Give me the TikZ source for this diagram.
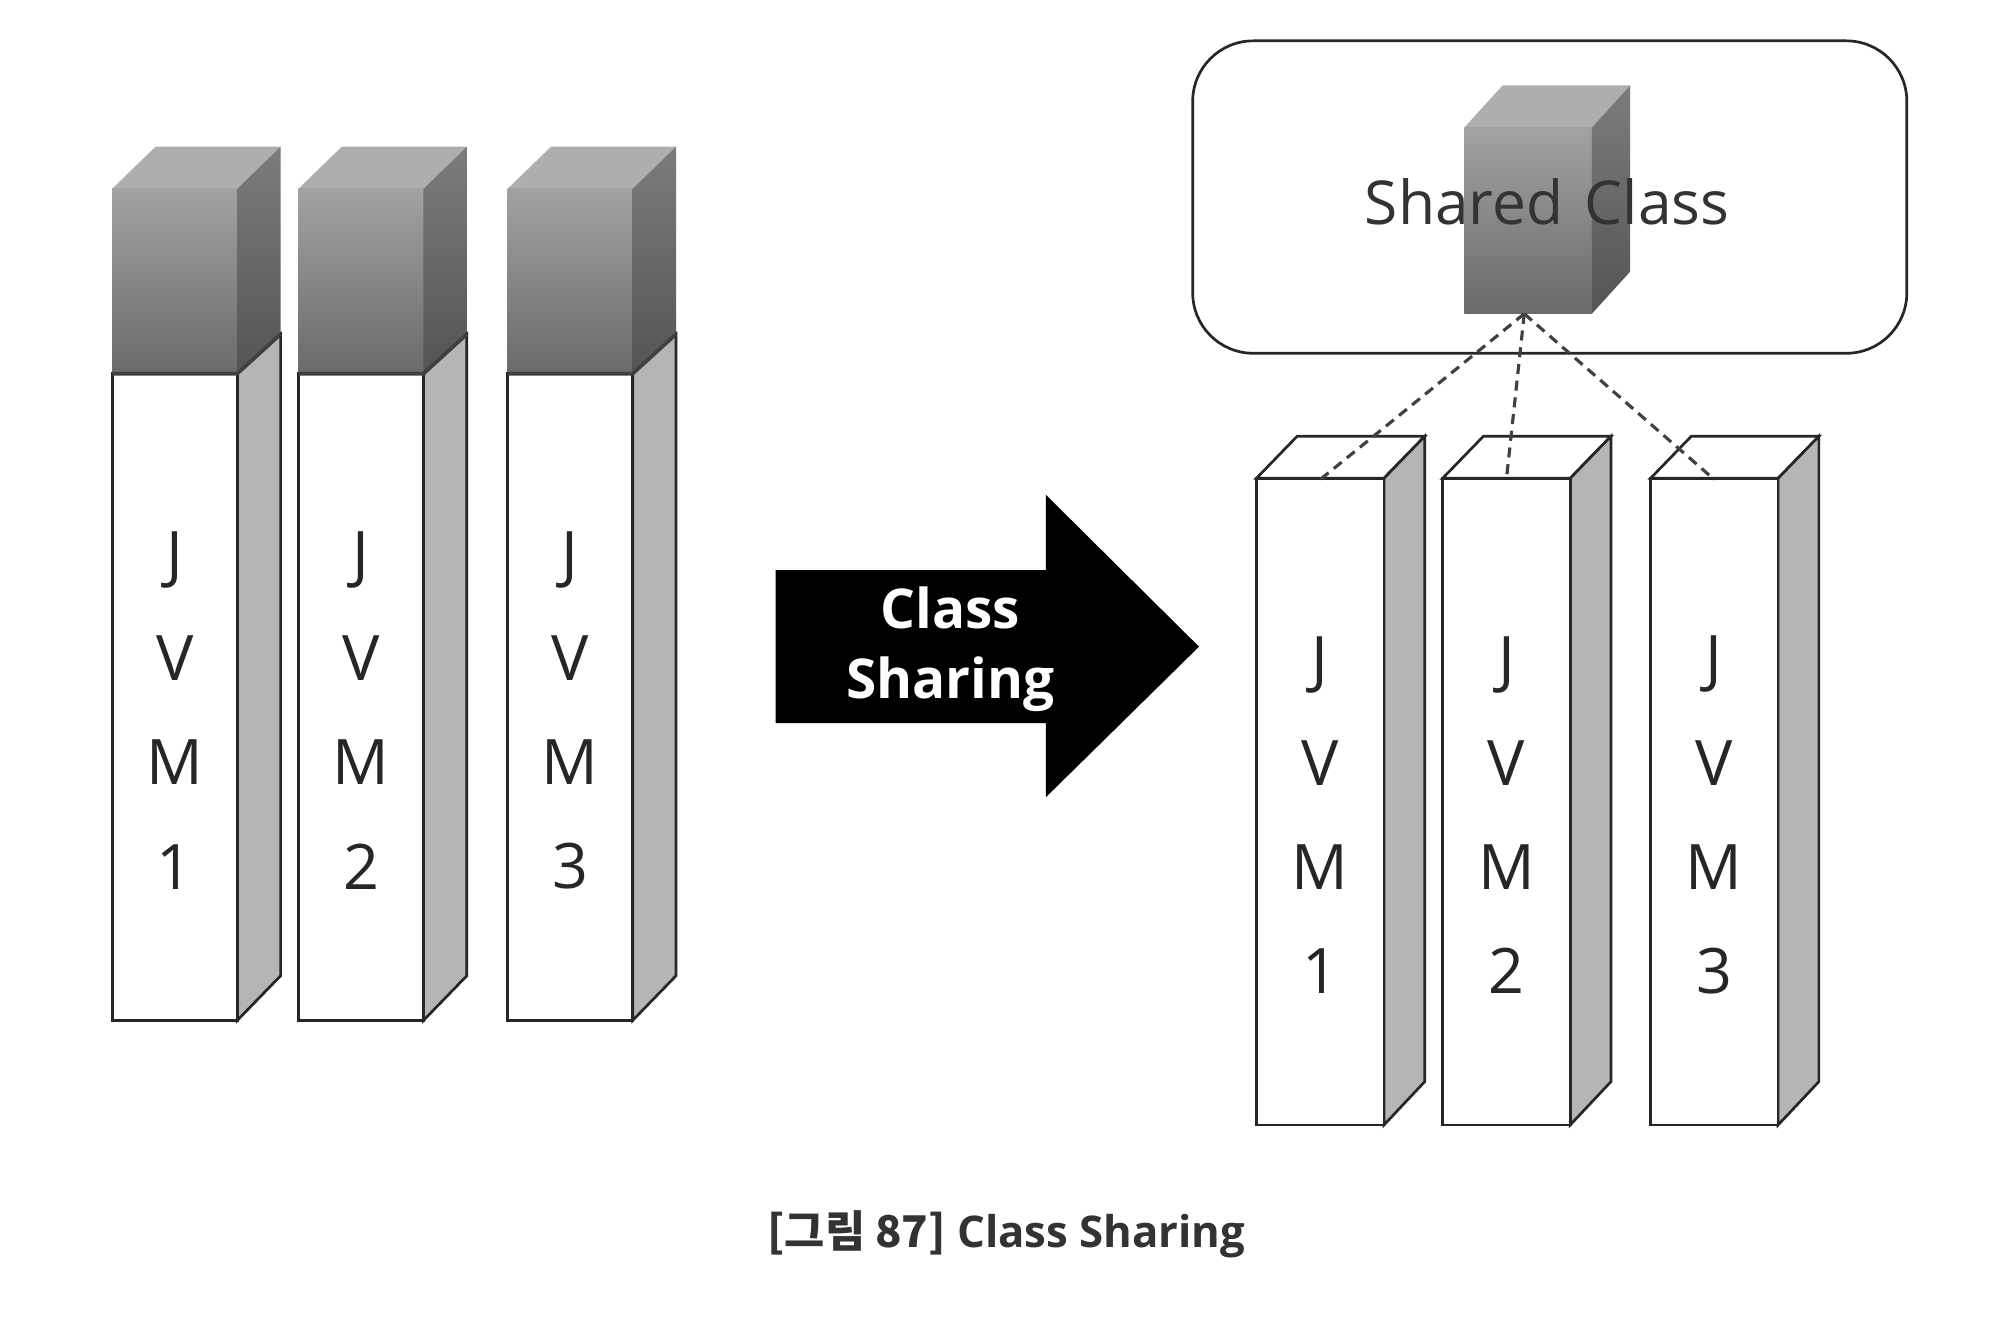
\documentclass[tikz,border=0pt]{standalone}
\usepackage{fontspec}
\setmainfont{Open Sans}
\newfontfamily\krfont{Noto Sans CJK KR}
\definecolor{gfronttop}{HTML}{A2A2A2}
\definecolor{gfrontbot}{HTML}{6A6A6A}
\definecolor{gtopface}{HTML}{AEAEAE}
\definecolor{gsidetop}{HTML}{7C7C7C}
\definecolor{gsidebot}{HTML}{545454}
\definecolor{lside}{HTML}{B5B5B5}
\newcommand\leftjvm[3]{%
  % #1 = left x, #2 = number, #3 = name
  \shade[top color=gtopface,bottom color=gtopface] (#1,148) -- (#1+34,115) -- (#1+132,115) -- (#1+98,148) -- cycle;
  \shade[top color=gfronttop,bottom color=gfrontbot] (#1,148) rectangle (#1+98,293);
  \shade[top color=gsidetop,bottom color=gsidebot] (#1+98,148) -- (#1+132,115) -- (#1+132,262) -- (#1+98,293) -- cycle;
  \draw[outl,fill=lside] (#1+98,293) -- (#1+132,262) -- (#1+132,765) -- (#1+98,800) -- cycle;
  \draw[outl,fill=white] (#1,293) rectangle (#1+98,800);
  \draw[line width=1.6pt,draw=black!75] (#1,293) -- (#1+98,293) -- (#1+132,262);
  \node[jvmtext] (#3) at (#1+49,557) {J\\V\\M\\#2};
}
\newcommand\rightjvm[3]{%
  \draw[outl,fill=white] (#1,375) -- (#1+32,342) -- (#1+132,342) -- (#1+100,375) -- cycle;
  \draw[outl,fill=lside] (#1+100,375) -- (#1+132,342) -- (#1+132,848) -- (#1+100,882) -- cycle;
  \draw[outl,fill=white] (#1,375) rectangle (#1+100,882);
  \coordinate (#3top) at (#1+50,376);
  \node[jvmtext] (#3) at (#1+50,639) {J\\V\\M\\#2};
}
\begin{document}
\begin{tikzpicture}[x=0.02cm,y=-0.02cm,
  outl/.style={draw=black!85,line width=1.2pt,line join=miter},
  jvmtext/.style={align=center,inner sep=0pt,font=\fontsize{28}{46.5}\selectfont,text=black!85},
  dashline/.style={draw=black!75,line width=1.4pt,dash pattern=on 4.5pt off 3pt}]
\useasboundingbox[fill=white] (0,0) rectangle (1568,1050.6);

% left JVMs
\leftjvm{88}{1}{la}
\leftjvm{234}{2}{lb}
\leftjvm{398}{3}{lc}

% big arrow
\fill[black] (608,447) -- (820,447) -- (820,388) -- (940,507) -- (820,625) -- (820,567) -- (608,567) -- cycle;
\node[align=center,text=white,font=\bfseries\fontsize{24.5}{31.5}\selectfont,inner sep=0pt] (arrowtext) at (745,509) {Class\\Sharing};

% shared class container
\node[draw=black!85,line width=1.2pt,rounded corners=0.95cm,minimum width=11.2cm,minimum height=4.9cm,inner sep=0pt] (sharedbox) at (1215,154.5) {};
% cube
\shade[top color=gtopface,bottom color=gtopface] (1148,100) -- (1178,67) -- (1278,67) -- (1248,100) -- cycle;
\shade[top color=gfronttop,bottom color=gfrontbot] (1148,100) rectangle (1248,246);
\shade[top color=gsidetop,bottom color=gsidebot] (1248,100) -- (1278,67) -- (1278,213) -- (1248,246) -- cycle;
\coordinate (cubebot) at (1195,246);
\node[inner sep=0pt,font=\fontsize{27}{30}\selectfont,text=black!80] (sharedtext) at (1213,158) {Shared\hspace{0.35em}Class};

% right JVMs
\rightjvm{985}{1}{ra}
\rightjvm{1131}{2}{rb}
\rightjvm{1294}{3}{rc}

% dashed connectors
\draw[dashline] (cubebot) -- (ratop);
\draw[dashline] (cubebot) -- (rbtop);
\draw[dashline] (cubebot) -- (rctop);

% caption
\node[inner sep=0pt,font=\bfseries\fontsize{19.5}{22}\selectfont,text=black!80] (caption) at (789,968) {{\krfont\bfseries [그림 87]} Class Sharing};
\end{tikzpicture}
\end{document}
